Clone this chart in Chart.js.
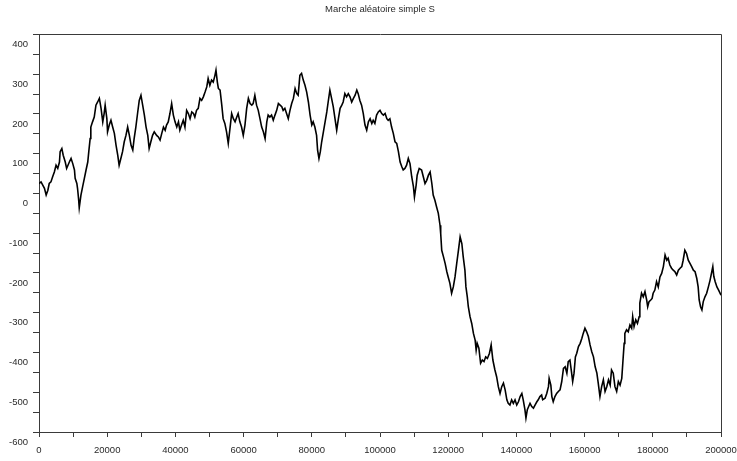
<!DOCTYPE html>
<html>
<head>
<meta charset="utf-8">
<title>Marche aléatoire simple S</title>
<script src="https://cdn.jsdelivr.net/npm/chart.js@4.4.1/dist/chart.umd.min.js"></script>
<style>
  html, body { margin: 0; padding: 0; background: #fff; }
  #wrap { width: 737px; height: 461px; }
</style>
</head>
<body>
<div id="wrap"><canvas id="c" width="737" height="461"></canvas></div>
<script>
// Step index n of the walk
const steps = [
  0,600,1100,1600,2100,2600,3000,3500,4000,4500,
  5000,5500,6000,6200,6700,7100,7700,8100,8500,8900,
  9400,9900,10400,10600,11100,11300,11600,11800,12300,12800,
  13300,13800,14300,14600,15000,15200,15700,16200,16700,17200,
  17700,18200,18700,19100,19400,19900,20100,20600,21100,21600,
  22100,22600,23100,23500,24000,24500,25000,25500,26000,26500,
  27000,27500,27900,28400,28900,29400,29900,30400,30900,31400,
  31900,32300,32800,33300,33800,
  34500,35000,35500,36000,36500,37000,37400,37900,38400,38900,
  39400,39900,40400,40900,41300,41800,42300,42800,43300,43800,
  44300,44800,45300,45700,46200,46700,47200,47700,48200,48700,
  49200,49600,50100,50600,51100,51600,51900,52300,52600,53100,
  53600,54000,54500,55000,55500,56000,56500,57000,57500,58000,
  58400,58900,59400,59900,60400,60900,61400,61900,62400,62800,
  63300,63800,64300,64800,65300,65800,66300,
  66800,67200,67700,68200,68700,69200,69700,70200,70700,71200,
  71600,72100,72600,73100,73600,74100,74600,75100,75600,76000,
  76500,77000,77500,78000,78500,79000,79500,80000,80400,80900,
  81400,81700,82100,82500,82900,83400,83900,84400,84800,85300,
  85800,86300,86800,87300,87800,88300,88800,89200,89700,90200,
  90700,91200,91700,92200,92700,93200,93600,94100,94600,95100,
  95600,96100,96600,97100,97600,98000,98500,99000,99500,100000,
  100500,101000,101500,102000,102400,102900,103400,103900,104400,
  104900,105400,105900,106400,106800,107300,107800,108300,108800,109300,
  109800,110100,110600,110900,111500,112200,112700,113200,113700,114200,
  114700,115200,115600,116100,116600,117100,117600,117800,118100,118600,
  119100,119600,120000,120500,121000,121500,122000,122500,123000,123500,
  124000,124400,124900,125200,125600,125900,126400,126900,127400,127900,
  128200,128500,129000,129500,130000,130500,131000,131500,132100,132600,
  133100,133700,134200,134700,135200,135700,136200,136700,137200,137600,
  138100,138600,139100,139600,140100,140600,141100,141600,142000,142500,
  142800,143200,143600,144000,144500,145000,145500,146000,146400,146900,
  147400,147700,148400,148900,149400,149600,150100,150400,150800,151300,
  151800,152300,152800,153300,153800,154300,154800,155200,155700,156200,
  156500,156900,157300,157700,158200,158700,159200,159600,160100,160600,
  161100,161600,162100,162600,163100,163600,164000,164500,165000,165500,
  166000,166500,167000,167500,167900,168400,168900,169400,169900,170400,
  170900,171200,171600,171800,172300,172800,173300,173800,174100,174500,
  175000,175500,176000,176200,176700,177200,177700,178200,178500,178900,
  179400,179800,180100,180600,181100,181600,182100,182600,183100,183600,
  184100,184500,185000,185500,186000,186500,187000,187500,188000,188500,
  188900,189400,189900,190400,190900,191400,191900,192400,192900,193300,
  193600,194000,194400,194800,195300,195800,196300,196800,197300,197600,
  197900,198300,198800,199300,200000
];

// Position S_n of the walk at each step
const walk = [
  25,29,21,13,-4,8,25,29,42,54,
  71,63,79,105,113,96,79,63,71,79,
  88,75,59,38,25,13,-13,-36,-4,17,
  38,59,79,105,138,167,180,192,222,230,
  239,214,180,201,222,188,155,172,184,167,
  151,121,96,71,88,105,130,146,167,146,
  121,109,138,167,201,234,247,222,197,167,
  146,113,130,146,155,
  146,142,134,151,167,159,172,180,201,226,
  197,180,167,180,159,172,184,167,209,201,
  188,205,201,192,209,214,239,234,243,255,
  268,289,272,285,280,297,310,280,264,260,
  222,188,176,155,126,163,201,188,180,192,
  201,180,167,146,172,214,239,226,222,226,
  247,222,209,188,167,155,138,
  180,197,192,197,184,197,209,226,222,218,
  209,214,201,188,209,226,239,264,251,247,
  297,302,285,272,255,230,197,172,180,167,
  146,109,88,105,130,155,180,205,230,260,
  239,218,188,159,188,214,222,230,251,243,
  251,243,230,239,247,260,251,234,222,201,
  172,159,180,188,176,184,176,197,205,209,
  201,197,201,188,184,188,167,151,130,
  126,105,79,67,59,63,71,88,75,42,
  17,-9,21,46,63,59,42,25,33,46,
  54,25,-4,-17,-34,-50,-80,-101,-143,-159,
  -176,-197,-210,-226,-251,-235,-210,-176,-143,-109,
  -126,-159,-193,-235,-260,-285,-310,-327,-352,-369,
  -394,-377,-389,-427,-419,-423,-411,-415,-402,-381,
  -419,-444,-461,-486,-503,-486,-477,-494,-519,-528,
  -532,-519,-528,-519,-532,-524,-511,-503,-519,-544,
  -565,-544,-536,-528,-536,-540,-532,-524,-519,-511,
  -507,-519,-515,-503,-486,-465,-482,-511,-524,-511,
  -503,-498,-494,-473,-440,-436,-452,-423,-419,-452,
  -473,-452,-411,-402,-385,-377,-364,-352,-339,-348,
  -360,-381,-398,-411,-436,-452,-477,-511,-486,-469,
  -498,-486,-469,-482,-444,-452,-486,-498,-473,-482,
  -465,-427,-377,-352,-343,-348,-331,-339,-310,-335,
  -318,-327,-310,-276,-251,-260,-247,-268,-285,-272,
  -268,-264,-251,-243,-222,-235,-210,-201,-184,-155,
  -168,-163,-180,-188,-193,-197,-205,-193,-188,-184,
  -168,-143,-151,-168,-176,-184,-193,-197,-214,-235,
  -268,-285,-293,-272,-260,-251,-235,-218,-197,-184,
  -209,-222,-235,-243,-256
];

// Axis ranges and tick spacing (labels on every other tick)
const xRange = [0, 200000];
const xTickStep = 10000;
const xLabelStep = 20000;
const yRange = [-600, 400];
const yTickStep = 50;
const yLabelStep = 100;

const titleText = 'Marche aléatoire simple S';

const axisColor = '#3a3a3a';
const textColor = '#2a2a2a';
const fontFamily = '"Liberation Sans", Arial, sans-serif';

// Top and right edges of the plot box
const frame = {
  id: 'frame',
  afterDatasetsDraw(chart) {
    const { ctx, chartArea: a } = chart;
    ctx.save();
    ctx.strokeStyle = axisColor;
    ctx.lineWidth = 1;
    ctx.beginPath();
    ctx.moveTo(Math.round(a.left) + 0.5, Math.round(a.top) + 0.5);
    ctx.lineTo(Math.round(a.right) + 0.5, Math.round(a.top) + 0.5);
    ctx.lineTo(Math.round(a.right) + 0.5, Math.round(a.bottom) + 0.5);
    ctx.stroke();
    ctx.restore();
  }
};

new Chart(document.getElementById('c'), {
  type: 'line',
  data: {
    datasets: [{
      data: steps.map((n, i) => ({ x: n, y: walk[i] })),
      borderColor: '#000',
      borderWidth: 1.6,
      pointRadius: 0,
      tension: 0,
      fill: false
    }]
  },
  options: {
    responsive: false,
    animation: false,
    devicePixelRatio: 1,
    layout: { padding: { left: 0, right: 16, top: 0, bottom: 0 } },
    plugins: {
      legend: { display: false },
      tooltip: { enabled: false },
      title: {
        display: true,
        text: titleText,
        fullSize: false,
        color: textColor,
        font: { family: fontFamily, size: 9.5, weight: 'normal' },
        padding: { top: 4, bottom: 19 }
      }
    },
    scales: {
      x: {
        type: 'linear',
        min: xRange[0],
        max: xRange[1],
        afterFit(s) { s.height = 29; s.paddingLeft = 0; s.paddingRight = 0; },
        border: { display: true, color: axisColor, width: 1 },
        grid: { drawOnChartArea: false, drawTicks: true, tickLength: 5, tickColor: axisColor },
        ticks: {
          stepSize: xTickStep,
          autoSkip: false,
          maxRotation: 0,
          padding: 8,
          color: textColor,
          font: { family: fontFamily, size: 9.5 },
          callback: v => (v % xLabelStep === 0 ? String(v) : '')
        }
      },
      y: {
        type: 'linear',
        min: yRange[0],
        max: yRange[1],
        afterFit(s) { s.width = 39; s.paddingTop = 0; s.paddingBottom = 0; },
        border: { display: true, color: axisColor, width: 1 },
        grid: { drawOnChartArea: false, drawTicks: true, tickLength: 6, tickColor: axisColor },
        ticks: {
          stepSize: yTickStep,
          autoSkip: false,
          padding: 5,
          labelOffset: 10,
          color: textColor,
          font: { family: fontFamily, size: 9.5 },
          callback: v => (v % yLabelStep === 0 ? String(v) : '')
        }
      }
    }
  },
  plugins: [frame]
});
</script>
</body>
</html>
